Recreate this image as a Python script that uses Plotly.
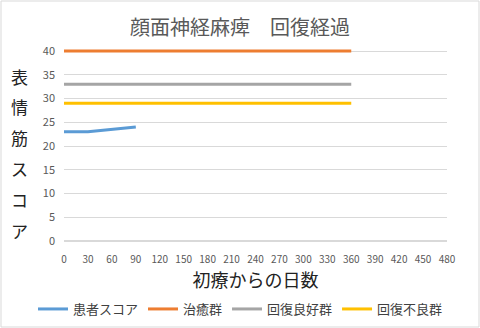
import plotly.graph_objects as go

# 初療からの日数と表情筋スコア
patient_days = [0, 30, 90]
patient_score = [23, 23, 24]

ref_days = [0, 360]
cure_score = [40, 40]
good_score = [33, 33]
poor_score = [29, 29]

x_ticks = list(range(0, 481, 30))
y_ticks = list(range(0, 41, 5))
y_title_chars = ["表", "情", "筋", "ス", "コ", "ア"]

FONT = "Noto Sans CJK JP"
TEXT = "#595959"

W, H = 480, 328
ML, MR, MT, MB = 64, 33, 49, 87
PW, PH = W - ML - MR, H - MT - MB
# 上端の線が切れないよう 40 の上に少し余白を取る
Y_MAX = 40 * PH / (PH - 2)

fig = go.Figure()
fig.add_trace(go.Scatter(x=patient_days, y=patient_score, mode="lines", name="患者スコア",
                         line=dict(color="#5B9BD5", width=3)))
fig.add_trace(go.Scatter(x=ref_days, y=cure_score, mode="lines", name="治癒群",
                         line=dict(color="#ED7D31", width=3)))
fig.add_trace(go.Scatter(x=ref_days, y=good_score, mode="lines", name="回復良好群",
                         line=dict(color="#A5A5A5", width=3)))
fig.add_trace(go.Scatter(x=ref_days, y=poor_score, mode="lines", name="回復不良群",
                         line=dict(color="#FFC000", width=3)))

# 縦書きの軸タイトル
annotations = []
for i, ch in enumerate(y_title_chars):
    annotations.append(dict(text=ch, xref="paper", yref="paper", x=(19 - ML) / PW,
                            y=((H - MB) - 76 - i * 30.8) / PH, showarrow=False,
                            font=dict(family=FONT, size=17, color="#222222"),
                            xanchor="center", yanchor="middle"))

fig.update_layout(
    width=W, height=H,
    margin=dict(l=ML, r=MR, t=MT, b=MB, autoexpand=False),
    paper_bgcolor="white", plot_bgcolor="white",
    font=dict(family=FONT, color=TEXT),
    title=dict(text="顔面神経麻痺\u3000回復経過", x=0.5, xanchor="center", y=1 - 28 / H, yanchor="middle",
               font=dict(family=FONT, size=20, color=TEXT)),
    xaxis=dict(range=[0, 480], tickvals=x_ticks, showgrid=False, zeroline=False,
               showline=False, ticks="", tickfont=dict(size=10, color=TEXT), ticklabelstandoff=11,
               title=dict(text="初療からの日数", font=dict(size=18, color="#222222"), standoff=9)),
    yaxis=dict(range=[0, Y_MAX], tickvals=y_ticks, showgrid=True, gridcolor="#D9D9D9",
               gridwidth=1, zeroline=True, zerolinecolor="#D9D9D9", zerolinewidth=2,
               showline=False, ticks="", tickfont=dict(size=11, color=TEXT), ticklabelstandoff=8),
    legend=dict(orientation="h", xref="paper", yref="paper", x=(33 - ML) / PW, xanchor="left",
                y=-(309 - (H - MB)) / PH, yanchor="middle",
                font=dict(size=13, color="#404040"), itemwidth=30, tracegroupgap=0),
    annotations=annotations,
    shapes=[dict(type="rect", xref="paper", yref="paper",
                 x0=(1 - ML) / PW, x1=(W - 1 - ML) / PW,
                 y0=-(MB - 1) / PH, y1=(H - MB - 1) / PH,
                 line=dict(color="#D9D9D9", width=1))],
)

fig.write_html("out.html")
